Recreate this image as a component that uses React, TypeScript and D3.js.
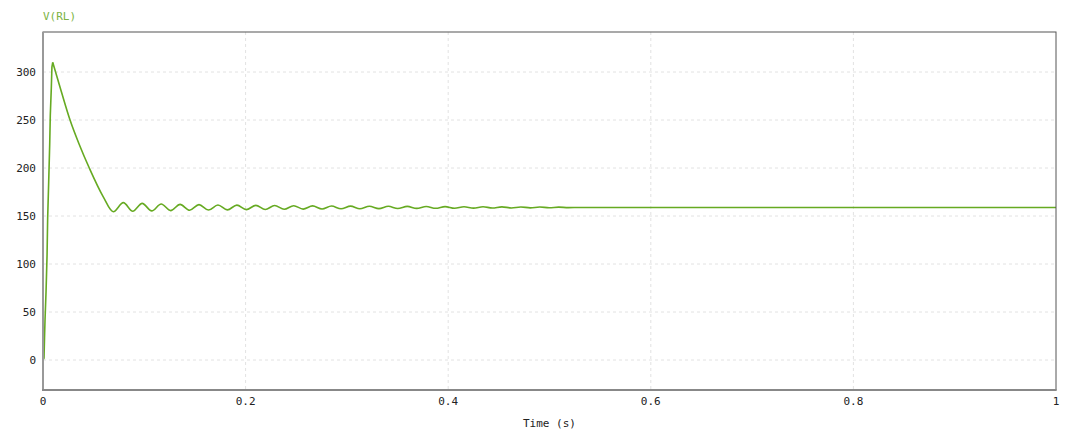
import React from "react";
import * as d3 from "d3";

// Time (s) samples
const timeValues: number[] = [
  0, 0.001, 0.0015, 0.002, 0.003, 0.004, 0.0046, 0.0056, 0.0066, 0.0072, 0.0082, 0.0088, 0.0096,
  0.018, 0.0267, 0.036, 0.0457, 0.0595, 0.0694,
  0.0793, 0.0886, 0.0979, 0.1073, 0.1167, 0.126, 0.1353, 0.1447, 0.154, 0.1634,
  0.1727, 0.182, 0.1914, 0.2007, 0.2101, 0.2194, 0.2287, 0.2381, 0.2475, 0.2568,
  0.2661, 0.2755, 0.2848, 0.2942, 0.3036, 0.3128, 0.3222, 0.3316, 0.3409, 0.3502,
  0.3596, 0.3689, 0.3783, 0.3877, 0.3969, 0.4063, 0.4156, 0.425, 0.4344, 0.4436,
  0.453, 0.4624, 0.4717, 0.481, 0.4904, 0.4997, 0.5091, 0.5185, 0.53, 0.7, 1.0,
];
// V(RL) samples
const voltageValues: number[] = [
  0, 2, 23, 42, 71, 109, 148, 185, 224, 255, 283, 305, 310,
  280, 250, 224, 200, 170, 154.5,
  163.9, 155.0, 163.2, 155.3, 162.5, 155.6, 162.1, 156.0, 161.8, 156.2,
  161.5, 156.4, 161.3, 156.6, 161.1, 156.8, 160.9, 157.0, 160.7, 157.2,
  160.5, 157.3, 160.4, 157.5, 160.3, 157.6, 160.2, 157.7, 160.1, 157.8,
  160.0, 157.9, 159.9, 158.0, 159.8, 158.1, 159.7, 158.2, 159.6, 158.3,
  159.5, 158.4, 159.4, 158.5, 159.3, 158.6, 159.2, 158.7, 158.9, 158.9, 158.9,
];

const xTicks: number[] = [0, 0.2, 0.4, 0.6, 0.8, 1];
const xTickLabels: string[] = ["0", "0.2", "0.4", "0.6", "0.8", "1"];
const yTicks: number[] = [0, 50, 100, 150, 200, 250, 300];
const seriesName = "V(RL)";
const xAxisTitle = "Time (s)";
const peakIndex = 12;

const W = 1080;
const H = 438;
const L = 43;
const R = 1056;
const T = 32;
const B = 390;
const FONT = "'DejaVu Sans Mono', monospace";
const GREEN = "#66aa22";

export default function App() {
  const x = d3.scaleLinear().domain([0, 1]).range([L, R]);
  const y = d3.scaleLinear().domain([-31.25, 341.6667]).range([B, T]);
  const data = timeValues.map((t, i) => [t, voltageValues[i]] as [number, number]);
  const rise = data.slice(0, peakIndex + 1);
  const rest = data.slice(peakIndex);
  const lineLinear = d3
    .line<[number, number]>()
    .x((d) => x(d[0]))
    .y((d) => y(d[1]));
  const lineSmooth = d3
    .line<[number, number]>()
    .x((d) => x(d[0]))
    .y((d) => y(d[1]))
    .curve(d3.curveMonotoneX);

  return (
    <svg
      width={W}
      height={H}
      style={{ position: "absolute", left: 0, top: 0, background: "#fff" }}
      fontFamily={FONT}
    >
      <rect x={0} y={0} width={W} height={H} fill="#fff" />
      {/* grid */}
      {yTicks.map((v) => (
        <line
          key={"gy" + v}
          x1={L}
          x2={R}
          y1={y(v)}
          y2={y(v)}
          stroke="#e2e2e2"
          strokeDasharray="3,3"
        />
      ))}
      {xTicks
        .filter((t) => t > 0 && t < 1)
        .map((t) => (
          <line
            key={"gx" + t}
            x1={x(t)}
            x2={x(t)}
            y1={T}
            y2={B}
            stroke="#e2e2e2"
            strokeDasharray="3,3"
          />
        ))}
      {/* series */}
      <path d={lineLinear(rise) || ""} fill="none" stroke={GREEN} strokeWidth={1.6} strokeLinejoin="round" />
      <path d={lineSmooth(rest) || ""} fill="none" stroke={GREEN} strokeWidth={1.6} strokeLinejoin="round" />
      {/* frame */}
      <rect x={L} y={T} width={R - L} height={B - T} fill="none" stroke="#555" strokeWidth={1} />
      <line x1={L} x2={L} y1={T} y2={B + 1} stroke="#999" strokeWidth={2} />
      <line x1={L - 1} x2={R + 0.5} y1={B} y2={B} stroke="#888" strokeWidth={2} />
      {/* y tick labels */}
      {yTicks.map((v) => (
        <text
          key={"ty" + v}
          x={36}
          y={y(v)}
          dy="0.35em"
          textAnchor="end"
          fontSize={11}
          fill="#222"
        >
          {v}
        </text>
      ))}
      {/* x tick labels */}
      {xTicks.map((t, i) => (
        <text
          key={"tx" + t}
          x={x(t)}
          y={405}
          textAnchor="middle"
          fontSize={11}
          fill="#222"
        >
          {xTickLabels[i]}
        </text>
      ))}
      <text x={(L + R) / 2} y={427} textAnchor="middle" fontSize={11} fill="#222">
        {xAxisTitle}
      </text>
      <text x={43} y={20} fontSize={11} fill="#7cb342">
        {seriesName}
      </text>
    </svg>
  );
}
